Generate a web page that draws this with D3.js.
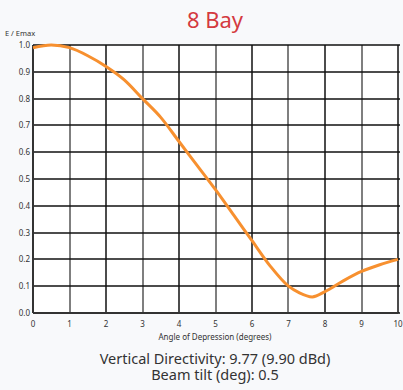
<!DOCTYPE html>
<html>
<head>
<meta charset="utf-8">
<script src="https://cdn.jsdelivr.net/npm/d3@7"></script>
<style>
  body { margin: 0; background: #f8f9fb; }
  svg text { font-family: "Noto Sans", "Open Sans", sans-serif; }
</style>
</head>
<body>
<div id="chart"></div>
<script>
// Curve values
var angles = [0, 0.5, 1, 1.5, 2, 2.5, 3, 3.5, 4, 4.5, 5, 5.5, 6, 6.5, 7, 7.3, 7.65, 8, 8.5, 9, 9.5, 10];
var field  = [0.99, 1.0, 0.99, 0.96, 0.92, 0.87, 0.80, 0.73, 0.64, 0.55, 0.46, 0.365, 0.27, 0.175, 0.10, 0.075, 0.06, 0.08, 0.12, 0.155, 0.18, 0.20];
var xTicks = [0, 1, 2, 3, 4, 5, 6, 7, 8, 9, 10];
var yTicks = [0, 0.1, 0.2, 0.3, 0.4, 0.5, 0.6, 0.7, 0.8, 0.9, 1.0];

var w = 403, h = 390;
var x0 = 33, x1 = 398, y0 = 45, y1 = 313;

var svg = d3.select("#chart")
    .append("svg")
    .attr("width", w)
    .attr("height", h);

var x = d3.scaleLinear().domain([0, 10]).range([x0, x1]);
var y = d3.scaleLinear().domain([0, 1]).range([y1, y0]);

// plot background
svg.append("rect")
    .attr("x", x0).attr("y", y0)
    .attr("width", x1 - x0).attr("height", y1 - y0)
    .style("fill", "white");

var grid = svg.append("g").attr("class", "grid");

// vertical grid lines
grid.selectAll("line.vgrid")
    .data(xTicks)
    .enter()
    .append("line")
    .attr("class", "vgrid")
    .attr("x1", function (d) { return Math.round(x(d)); })
    .attr("x2", function (d) { return Math.round(x(d)); })
    .attr("y1", y0)
    .attr("y2", y1)
    .style("stroke", function (d, i) { return i % 2 ? "#555" : "#111"; })
    .style("stroke-width", "1.5px");

// horizontal grid lines
grid.selectAll("line.hgrid")
    .data(yTicks)
    .enter()
    .append("line")
    .attr("class", "hgrid")
    .attr("x1", x0)
    .attr("x2", x1 + 2)
    .attr("y1", function (d) { return Math.round(y(d)); })
    .attr("y2", function (d) { return Math.round(y(d)); })
    .style("stroke", "#111")
    .style("stroke-width", "1.5px");

// axis lines
grid.append("line")
    .attr("x1", x0).attr("x2", x0)
    .attr("y1", y0).attr("y2", y1)
    .style("stroke", "#333").style("stroke-width", "2px");
grid.append("line")
    .attr("x1", x0).attr("x2", x1)
    .attr("y1", y1).attr("y2", y1)
    .style("stroke", "#333").style("stroke-width", "2px");

// tick labels
svg.selectAll("text.yt")
    .data(yTicks)
    .enter()
    .append("text")
    .attr("class", "yt")
    .attr("x", x0 - 3)
    .attr("y", function (d) { return y(d) + 3; })
    .attr("text-anchor", "end")
    .style("font-size", "8px")
    .style("fill", "#333")
    .text(function (d) { return d.toFixed(1); });

svg.selectAll("text.xt")
    .data(xTicks)
    .enter()
    .append("text")
    .attr("class", "xt")
    .attr("x", function (d) { return x(d); })
    .attr("y", y1 + 14)
    .attr("text-anchor", "middle")
    .style("font-size", "8px")
    .style("fill", "#333")
    .text(function (d) { return d; });

// curve
var line = d3.line()
    .x(function (d) { return x(d[0]); })
    .y(function (d) { return y(d[1]); })
    .curve(d3.curveMonotoneX);

svg.append("path")
    .datum(d3.zip(angles, field))
    .attr("d", line)
    .style("fill", "none")
    .style("stroke", "#f7902f")
    .style("stroke-width", "3px");

// titles
svg.append("text")
    .attr("x", 215).attr("y", 28)
    .attr("text-anchor", "middle")
    .style("font-size", "22px")
    .style("fill", "#d43a3f")
    .text("8 Bay");

svg.append("text")
    .attr("x", 5).attr("y", 36)
    .style("font-size", "7.5px")
    .style("fill", "#333")
    .text("E / Emax");

svg.append("text")
    .attr("x", 215).attr("y", 340)
    .attr("text-anchor", "middle")
    .style("font-size", "8px")
    .style("fill", "#333")
    .text("Angle of Depression (degrees)");

svg.append("text")
    .attr("x", 215).attr("y", 364)
    .attr("text-anchor", "middle")
    .style("font-size", "14.5px")
    .style("fill", "#333")
    .text("Vertical Directivity: 9.77 (9.90 dBd)");

svg.append("text")
    .attr("x", 215).attr("y", 380)
    .attr("text-anchor", "middle")
    .style("font-size", "14.5px")
    .style("fill", "#333")
    .text("Beam tilt (deg): 0.5");
</script>
</body>
</html>
